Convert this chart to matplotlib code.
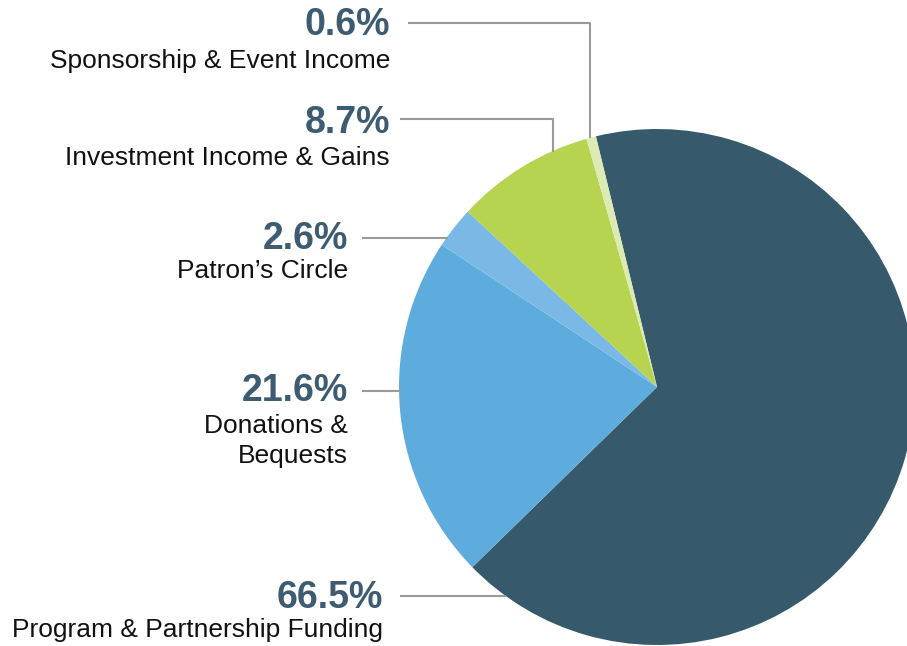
import matplotlib
matplotlib.use("Agg")
import matplotlib.pyplot as plt

categories = ["Program & Partnership Funding", "Donations &\nBequests", "Patron\u2019s Circle",
              "Investment Income & Gains", "Sponsorship & Event Income"]
values = [66.5, 21.6, 2.6, 8.7, 0.6]
pct_labels = ["66.5%", "21.6%", "2.6%", "8.7%", "0.6%"]
colors = ["#36596b", "#5eabdd", "#7ab9e5", "#b6d44f", "#dcebb4"]

W, H = 907, 646
fig = plt.figure(figsize=(W / 100, H / 100), dpi=100)
ax = fig.add_axes([0, 0, 1, 1])
ax.set_xlim(0, W)
ax.set_ylim(0, H)
ax.set_aspect("equal")
ax.axis("off")

def Y(y):
    return H - y

cx, cy, r = 657, 387, 258
ax.pie(values, colors=colors, startangle=103.7, counterclock=False,
       center=(cx, Y(cy)), radius=r, frame=True,
       wedgeprops=dict(linewidth=0))
ax.set_xlim(0, W)
ax.set_ylim(0, H)
ax.axis("off")

font = "Liberation Sans"
pct_color = "#3d5b71"
line_color = "#9a9a9a"

# (text right x, pct y, label y, leader path)
layout = {
    4: (390, 25, 61, [(408, 23), (590, 23), (590, 138)]),
    3: (390, 123, 158, [(400, 119), (553, 119), (553, 152)]),
    2: (348, 239, 271, [(362, 238), (448, 238)]),
    1: (348, 391, 441, [(362, 391), (401, 391)]),
    0: (383, 598, 630, [(400, 596), (506, 596)]),
}

for i, (tx, py, ly, path) in layout.items():
    ax.text(tx, Y(py), pct_labels[i], ha="right", va="center", fontsize=27,
            fontweight="bold", color=pct_color, family=font)
    ax.text(tx, Y(ly), categories[i], ha="right", va="center", fontsize=19,
            color="#111111", family=font, linespacing=1.3, multialignment="right")
    xs = [p[0] for p in path]
    ys = [Y(p[1]) for p in path]
    ax.plot(xs, ys, color=line_color, lw=1.5, solid_capstyle="butt", zorder=5)

fig.savefig("out.png", dpi=100)
